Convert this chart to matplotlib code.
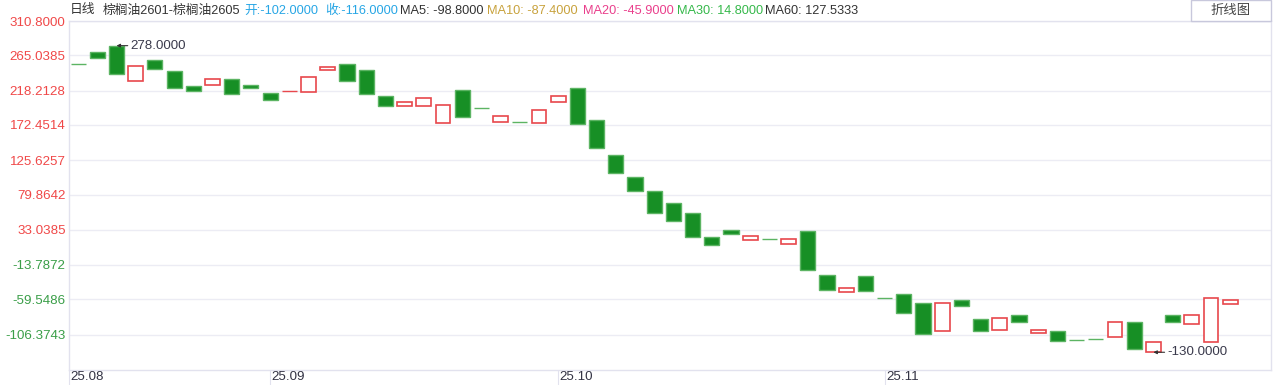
import matplotlib
matplotlib.use("Agg")
from matplotlib import pyplot as plt
from matplotlib.patches import Rectangle
import numpy as np

plt.rcParams['font.family'] = ['Liberation Sans', 'Noto Sans CJK SC']

# daily open / close of the spread (palm oil 2601 - 2605)
opens = [253, 269, 278, 231, 259, 244, 224, 225, 234, 225,
         215, 217, 216, 245, 253, 245, 211, 198, 198, 175,
         219, 195, 177, 176, 175, 203, 222, 179, 133, 103,
         85, 69, 55, 23, 33, 20, 21, 14, 31, -27,
         -50, -29, -58, -53, -65, -102, -61, -86, -101, -81,
         -105, -102, -114, -112, -110, -90, -130, -81, -92, -117,
         -66]
closes = [253, 261, 240, 251, 247, 222, 218, 234, 213, 222,
          206, 217, 236, 249, 231, 213, 198, 203, 208, 199,
          183, 195, 185, 176, 193, 211, 174, 142, 109, 85,
          55, 45, 24, 13, 27, 25, 21, 21, -21, -47,
          -45, -49, -58, -78, -106, -65, -69, -102, -84, -90,
          -101, -115, -114, -112, -90, -125, -117, -90, -81, -58,
          -61]

ytick_vals = [310.8, 265.0385, 218.2128, 172.4514, 125.6257, 79.8642,
              33.0385, -13.7872, -59.5486, -106.3743]
xtick_idx = [-0.5, 10, 25, 42]
xtick_labels = ["25.08", "25.09", "25.10", "25.11"]

header = [
    ("日线", "#333333"),
    ("棕榈油2601-棕榈油2605", "#333333"),
    ("开:-102.0000", "#27a6e5"),
    ("收:-116.0000", "#27a6e5"),
    ("MA5: -98.8000", "#333333"),
    ("MA10: -87.4000", "#c8a23c"),
    ("MA20: -45.9000", "#ea3f8c"),
    ("MA30: 14.8000", "#35b84a"),
    ("MA60: 127.5333", "#333333"),
]
header_x = [69.3, 102.7, 244.3, 325, 400, 486.7, 583, 676.7, 765]

W, H = 1274, 385
fig = plt.figure(figsize=(W / 100, H / 100), dpi=100)
ax = fig.add_axes([68.5 / W, 15 / H, 1202 / W, 349 / H])

RED = "#e8474c"
GREEN = "#178f25"
x = np.arange(len(opens))
o = np.array(opens, dtype=float)
c = np.array(closes, dtype=float)
up = c > o
flat_red = (c == o) & np.isin(x, [11])
down = ~up & ~flat_red

ax.bar(x[down], c[down] - o[down], bottom=o[down], width=0.79,
       color=GREEN, edgecolor="#5cb463", linewidth=1.0, zorder=3)
ax.bar(x[up], c[up] - o[up], bottom=o[up], width=0.77,
       facecolor="white", edgecolor=RED, linewidth=1.2, zorder=3)
ax.bar(x[flat_red], 0, bottom=o[flat_red], width=0.79,
       facecolor="white", edgecolor=RED, linewidth=1.0, zorder=3)

ax.set_xlim(-0.5, 62.1)
ax.set_ylim(-153.6, 310.8)

# y axis
ax.set_yticks(ytick_vals)
ax.set_yticklabels(["%.4f" % v for v in ytick_vals], fontsize=9.6)
for lab, v in zip(ax.get_yticklabels(), ytick_vals):
    lab.set_color("#f04848" if v > 0 else "#3a9e48")
ax.tick_params(axis='y', length=0, pad=2)
ax.grid(axis='y', color="#ececf4", linewidth=1.0, zorder=0)

# x axis
ax.set_xticks(xtick_idx)
ax.tick_params(axis='x', length=11, color="#e2e2ee", labelbottom=False)
for xi, lab in zip(xtick_idx, xtick_labels):
    ax.annotate(lab, xy=(xi, 0), xycoords=('data', 'axes fraction'),
                xytext=(1.5, -7.5), textcoords='offset pixels',
                ha='left', va='center', fontsize=9.6, color="#333344")

for side in ['left', 'bottom', 'top', 'right']:
    ax.spines[side].set_color("#e2e2ee")
    ax.spines[side].set_linewidth(1.0)

# max / min labels
imax = int(np.argmax(np.maximum(o, c)))
imin = int(np.argmin(np.minimum(o, c)))
for i, v in [(imax, max(o[imax], c[imax])), (imin, min(o[imin], c[imin]))]:
    ax.annotate("%.4f" % v, xy=(i, v), xytext=(14, 0), textcoords='offset pixels',
                ha='left', va='center', fontsize=9.6, color="#3a3a4c",
                arrowprops=dict(arrowstyle='-|>', color="#333333", lw=0.8,
                                mutation_scale=5, shrinkA=0, shrinkB=0),
                zorder=5)

# header line
for (txt, col), hx in zip(header, header_x):
    fig.text(hx / W, 1 - 10.5 / H, txt, ha='left', va='center',
             fontsize=9.2, color=col)

btn = Rectangle((1191 / W, 1 - 20.5 / H), 80 / W, 20 / H, transform=fig.transFigure,
                facecolor="white", edgecolor="#c8c8dc", linewidth=1.0)
fig.patches.append(btn)
fig.text(1231 / W, 1 - 10.5 / H, "折线图", ha='center', va='center',
         fontsize=9.6, color="#444444")

fig.savefig("out.png", dpi=100)
